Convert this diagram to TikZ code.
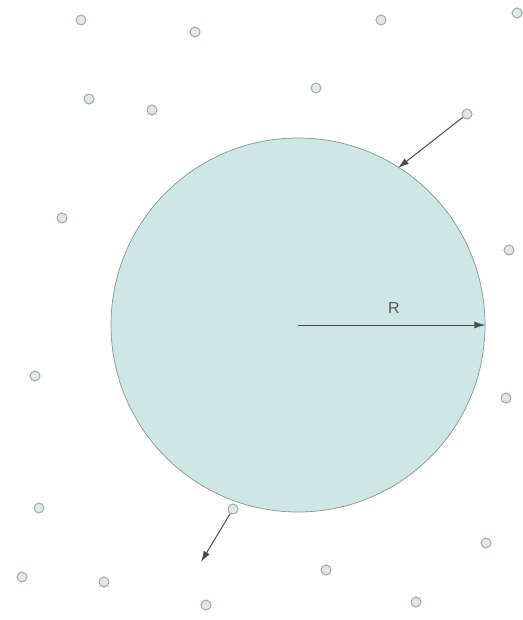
\documentclass[tikz,border=0pt]{standalone}
\usepackage{fontspec}
\setmainfont{Liberation Sans}
\usetikzlibrary{arrows.meta}
\definecolor{bigfill}{RGB}{206,230,228}
\definecolor{bigline}{RGB}{130,150,148}
\definecolor{dotfill}{RGB}{222,232,230}
\definecolor{dotline}{RGB}{160,168,168}
\tikzset{
  x=1pt,y=-1pt,
  dot/.style={circle,draw=dotline,fill=dotfill,line width=1pt,minimum size=10pt,inner sep=0pt},
  arr/.style={-{Latex[length=11pt,width=7pt]},draw=black!70,line width=1pt}
}
\begin{document}
\begin{tikzpicture}
\useasboundingbox (0,0) rectangle (522,620);
\node[circle,draw=bigline,fill=bigfill,line width=0.7pt,minimum size=374pt,inner sep=0pt] (big) at (298,325) {};
\node[dot] (d1) at (81,20) {};
\node[dot] (d2) at (195,32) {};
\node[dot] (d3) at (381,20) {};
\node[dot] (d4) at (517,13) {};
\node[dot] (d5) at (89,99) {};
\node[dot] (d6) at (152,110) {};
\node[dot] (d7) at (316,88) {};
\node[dot] (d8) at (467,114) {};
\node[dot] (d9) at (62,218) {};
\node[dot] (d10) at (509,250) {};
\node[dot] (d11) at (35,376) {};
\node[dot] (d12) at (506,398) {};
\node[dot] (d13) at (39,508) {};
\node[dot] (d14) at (233,509) {};
\node[dot] (d15) at (486,543) {};
\node[dot] (d16) at (22,577) {};
\node[dot] (d17) at (104,582) {};
\node[dot] (d18) at (326,570) {};
\node[dot] (d19) at (206,605) {};
\node[dot] (d20) at (416,602) {};
\coordinate (c) at (298,325);
\coordinate (e1) at (398,168);
\coordinate (e2) at (201,562);
\draw[arr] (d8) -- (e1);
\draw[arr] (d14) -- (e2);
\draw[arr] (c) -- (big.east);
\node[text=black!65,font=\fontsize{16}{18}\selectfont] (R) at (394,308) {R};
\end{tikzpicture}
\end{document}
